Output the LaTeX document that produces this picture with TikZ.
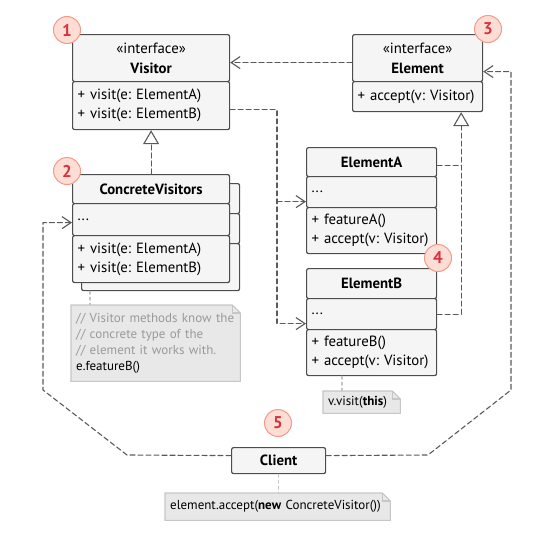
\documentclass[tikz,border=0pt]{standalone}
\usepackage{fontspec}
\setmainfont{PT Sans}
\frenchspacing
\usetikzlibrary{positioning,calc,arrows.meta,backgrounds}
\definecolor{boxline}{HTML}{4D4D4D}
\definecolor{boxfill}{HTML}{F5F5F5}
\definecolor{linkgray}{HTML}{5A5A5A}
\definecolor{notefill}{HTML}{E8E8E8}
\definecolor{noteline}{HTML}{C6C6C6}
\definecolor{commentgray}{HTML}{9A9A9A}
\definecolor{badgefill}{HTML}{FDDDD4}
\definecolor{badgeline}{HTML}{F49A8A}
\definecolor{badgetext}{HTML}{D63340}
\tikzset{>={Straight Barb[length=9pt,width=12pt]}}

\begin{document}
\begin{tikzpicture}[x=1pt, y=-1pt, line cap=round, line join=round,
  font=\fontsize{14.8}{19}\selectfont,
  compart/.style={draw=boxline, fill=boxfill, line width=1.2pt, rounded corners=2pt,
    anchor=north west, inner xsep=5pt, inner ysep=0pt},
  head/.style={compart, text width=#1, align=center},
  members/.style={compart, text width=#1, align=left},
  dep/.style={draw=linkgray, line width=1.1pt, dash pattern=on 5pt off 3pt, ->},
  realize/.style={draw=linkgray, line width=1.1pt, dash pattern=on 5pt off 3pt,
    -{Triangle[open,length=14pt,width=16pt]}},
  notebox/.style={anchor=north west, inner xsep=5pt, inner ysep=0pt, align=left,
    font=\fontsize{13}{16}\selectfont},
  notelink/.style={draw=noteline, line width=1.1pt, dash pattern=on 3pt off 3pt},
  badge/.style={circle, draw=badgeline, fill=badgefill, line width=1pt,
    minimum size=27pt, inner sep=0pt, text=badgetext,
    font=\fontsize{17}{17}\selectfont\bfseries}]

  % Visitor interface
  \node[head=147pt, minimum height=47pt] (vhead) at (72,34)
    {«interface»\\[1pt]\textbf{Visitor}};
  \node[members=147pt, minimum height=48pt] (vops) at (72,81)
    {+ visit(e: ElementA)\\+ visit(e: ElementB)};

  % Element interface
  \node[head=120pt, minimum height=47pt] (ehead) at (352,34)
    {«interface»\\[1pt]\textbf{Element}};
  \node[members=120pt, minimum height=30pt] (eops) at (352,81)
    {+ accept(v: Visitor)};

  % ConcreteVisitors (stacked)
  \node[members=148pt, minimum height=30pt] (cvback1) at (81,183) {};
  \node[members=148pt, minimum height=30pt] (cvback2) at (81,213) {};
  \node[members=148pt, minimum height=47pt] (cvback3) at (81,243) {};
  \node[head=147pt, minimum height=29pt] (cvhead) at (72,174)
    {\textbf{ConcreteVisitors}};
  \node[members=147pt, minimum height=32pt] (cvfields) at (72,203) {...};
  \node[members=147pt, minimum height=47pt] (cvops) at (72,235)
    {+ visit(e: ElementA)\\+ visit(e: ElementB)};

  % ElementA
  \node[head=120pt, minimum height=29pt] (eahead) at (306,147) {\textbf{ElementA}};
  \node[members=120pt, minimum height=31pt] (eafields) at (306,176) {...};
  \node[members=120pt, minimum height=46pt] (eaops) at (306,207)
    {+ featureA()\\+ accept(v: Visitor)};

  % ElementB
  \node[head=120pt, minimum height=30pt] (ebhead) at (306,268) {\textbf{ElementB}};
  \node[members=120pt, minimum height=31pt] (ebfields) at (306,298) {...};
  \node[members=120pt, minimum height=46pt] (ebops) at (306,329)
    {+ featureB()\\+ accept(v: Visitor)};

  % Client
  \node[head=84pt, minimum height=26pt] (client) at (231,447) {\textbf{Client}};

  % Notes
  \node[notebox, text width=159pt, minimum height=76pt] (note1) at (71,305)
    {\textcolor{commentgray}{// Visitor methods know the}\\
     \textcolor{commentgray}{// concrete type of the}\\
     \textcolor{commentgray}{// element it works with.}\\
     e.featureB()};
  \node[notebox, text width=67pt, minimum height=22pt] (note2) at (323,391)
    {v.visit(\textbf{this})};
  \node[notebox, text width=215pt, minimum height=27pt] (note3) at (165,493)
    {element.accept(\textbf{new} ConcreteVisitor())};
  \begin{scope}[on background layer]
    \foreach \n in {note1,note2,note3} {
      \draw[draw=noteline, fill=notefill, line width=1.1pt]
        (\n.south west) -- (\n.north west) -- ([xshift=-8pt]\n.north east)
        -- ([yshift=-8pt]\n.north east) -- (\n.south east) -- cycle;
      \draw[draw=noteline, line width=1.1pt]
        ([xshift=-8pt]\n.north east) |- ([yshift=-8pt]\n.north east);
    }
  \end{scope}
  \draw[notelink] ([xshift=9pt]cvback3.south west) -- ([xshift=19pt]note1.north west);
  \draw[notelink] ([xshift=36pt]ebops.south west) -- ([xshift=19pt]note2.north west);
  \draw[notelink] (client.south) -- (client.south |- note3.north);

  % Realization
  \draw[realize] (cvhead.north) -- (vops.south);
  \draw[realize] (ebfields.east) -| ([xshift=-22pt]eops.south east);
  \draw[draw=linkgray, line width=1.1pt, dash pattern=on 5pt off 3pt]
    ([yshift=-3.5pt]eahead.east) -- ++(24,0);

  % Dependencies
  \draw[dep] ([yshift=-4.5pt]ehead.west) -- ([yshift=-4.5pt]vhead.east);
  \draw[dep] ([yshift=-4pt]vops.east) -| ([xshift=-29pt,yshift=-9.5pt]ebfields.west)
    -- ([yshift=-9.5pt]ebfields.west);
  \draw[dep] ([xshift=-29pt,yshift=-9.5pt]eafields.west) -- ([yshift=-9.5pt]eafields.west);
  \draw[dep] ([yshift=5pt]client.east) -- (428,455) -- (511,390)
    |- ([yshift=-13.5pt]ehead.east);
  \draw[dep] ([yshift=5pt]client.west) -- (127,455) -- (43,390)
    |- ([yshift=-3pt]cvfields.west);

  % Badges
  \node[badge] (b1) at (67,30) {1};
  \node[badge] (b2) at (67,171) {2};
  \node[badge] (b3) at (488,29) {3};
  \node[badge] (b4) at (438,258) {4};
  \node[badge] (b5) at (278,423) {5};

  \useasboundingbox (0,0) rectangle (550,538);
\end{tikzpicture}
\end{document}
